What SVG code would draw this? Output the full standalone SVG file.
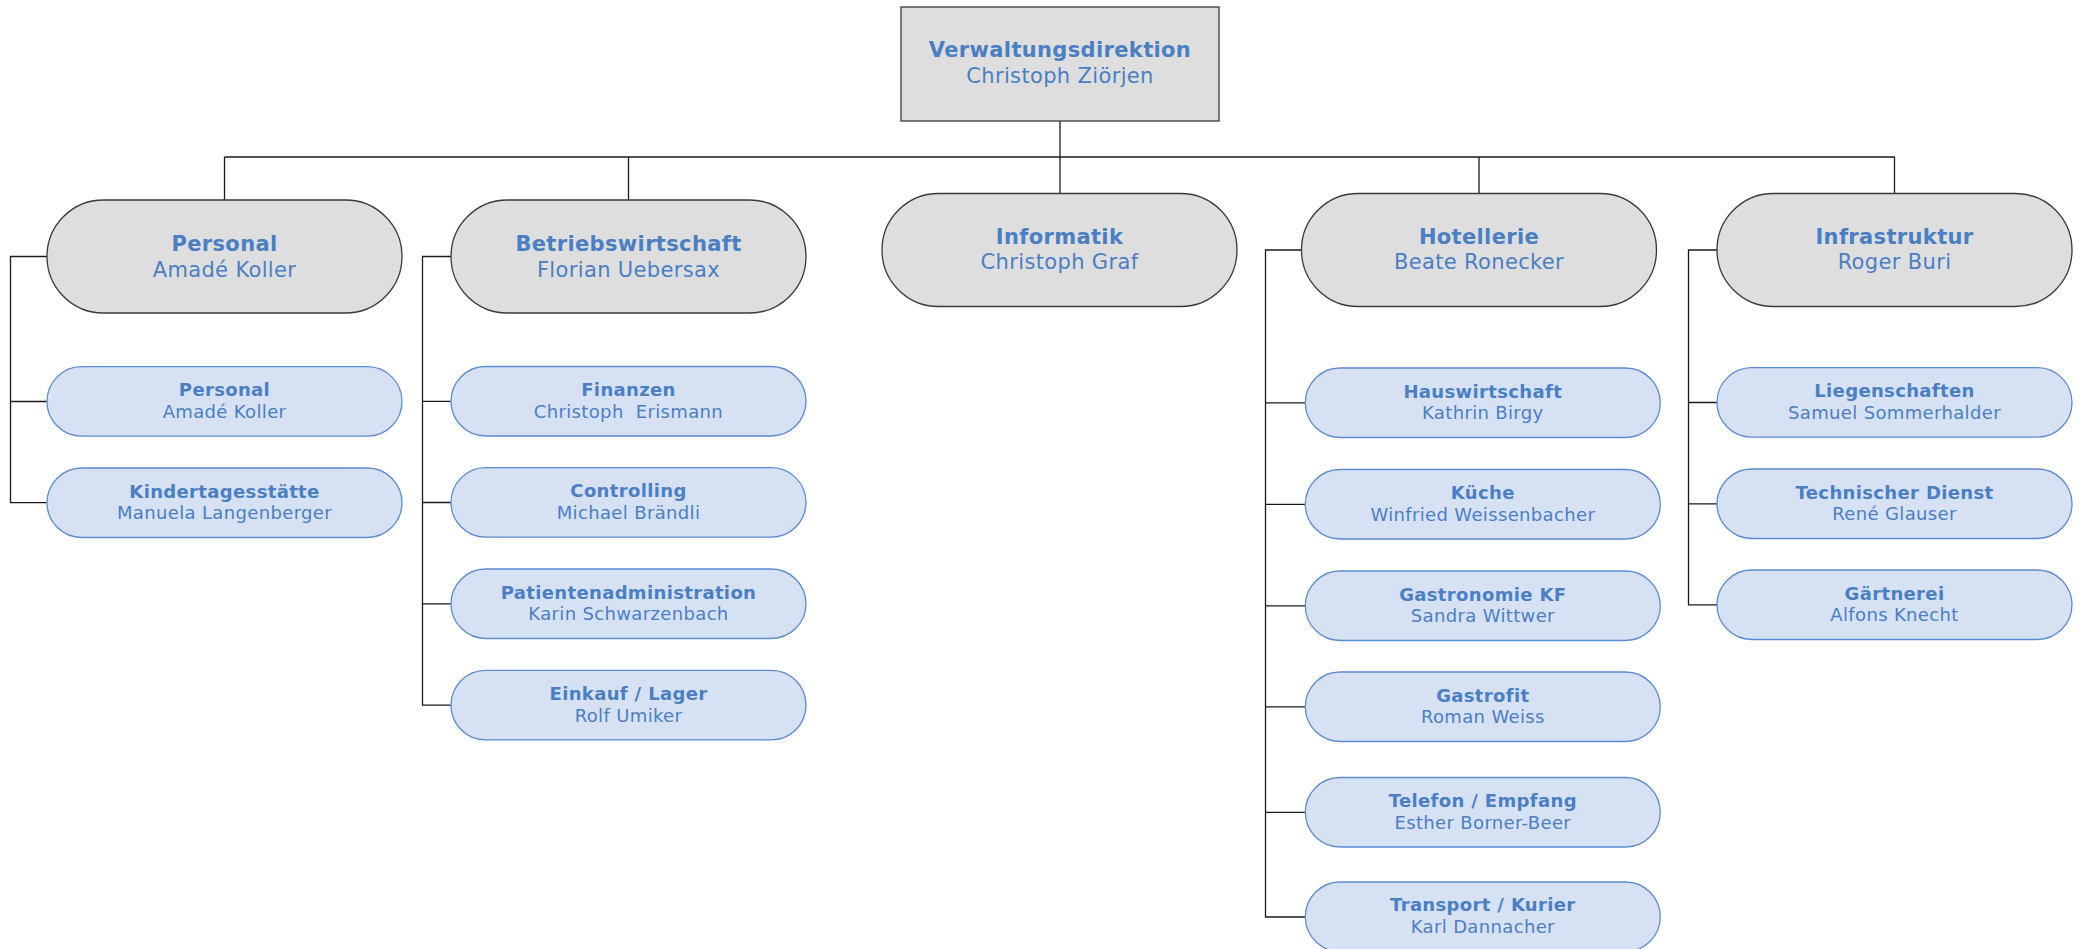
<svg xmlns="http://www.w3.org/2000/svg" width="2082" height="949" viewBox="0 0 2082 949">
<style>
.main{fill:#dedede;stroke:#3a3a3a;stroke-width:1.3}
.top{fill:#dedede;stroke:#3a3a3a;stroke-width:1.3}
.sub{fill:#d6e1f3;stroke:#5b8bd0;stroke-width:1.3}
text{font-family:"DejaVu Sans",Verdana,sans-serif;fill:#4a7fc4;text-anchor:middle;letter-spacing:0.35px}
.mb{font-size:21px;font-weight:bold}
.mr{font-size:21px}
.sb{font-size:18px;font-weight:bold}
.sr{font-size:18px}
.ln{fill:none;stroke:#1a1a1a;stroke-width:1.3}
</style>
<rect width="2082" height="949" fill="#ffffff"/>
<g id="connectors">
<path class="ln" d="M1060,121 V157" stroke-width="2.2"/>
<path class="ln" d="M224.5,157 H1895"/>
<path class="ln" d="M224.5,157 V200 M628.5,157 V200 M1060,157 V193.5 M1479,157 V193.5 M1894.5,157 V193.5"/>
<path class="ln" d="M47,256.5 H10.5 V502.7 H47 M10.5,401.5 H47"/>
<path class="ln" d="M451,256.5 H422.5 V705.2 H451 M422.5,401.3 H451 M422.5,502.5 H451 M422.5,603.8 H451"/>
<path class="ln" d="M1301.5,250 H1265.5 V917 H1305.3 M1265.5,402.8 H1305.3 M1265.5,504.3 H1305.3 M1265.5,605.8 H1305.3 M1265.5,706.8 H1305.3 M1265.5,812.3 H1305.3"/>
<path class="ln" d="M1717,250 H1688.5 V604.8 H1717 M1688.5,402.5 H1717 M1688.5,503.8 H1717"/>
</g>
<g id="verwaltungsdirektion">
<rect class="top" x="901" y="7" width="318" height="114"/>
<text class="mb" x="1060" y="57">Verwaltungsdirektion</text>
<text class="mr" x="1060" y="83">Christoph Ziörjen</text>
</g>
<g id="personal">
<rect class="main" x="47" y="200" width="355" height="113" rx="56.5"/>
<text class="mb" x="224.5" y="250.5">Personal</text>
<text class="mr" x="224.5" y="276.5">Amadé Koller</text>
</g>
<g id="betriebswirtschaft">
<rect class="main" x="451" y="200" width="355" height="113" rx="56.5"/>
<text class="mb" x="628.5" y="250.5">Betriebswirtschaft</text>
<text class="mr" x="628.5" y="276.5">Florian Uebersax</text>
</g>
<g id="informatik">
<rect class="main" x="882" y="193.5" width="355" height="113" rx="56.5"/>
<text class="mb" x="1059.5" y="243.5">Informatik</text>
<text class="mr" x="1059.5" y="269">Christoph Graf</text>
</g>
<g id="hotellerie">
<rect class="main" x="1301.5" y="193.5" width="355" height="113" rx="56.5"/>
<text class="mb" x="1479" y="243.5">Hotellerie</text>
<text class="mr" x="1479" y="269">Beate Ronecker</text>
</g>
<g id="infrastruktur">
<rect class="main" x="1717" y="193.5" width="355" height="113" rx="56.5"/>
<text class="mb" x="1894.5" y="243.5">Infrastruktur</text>
<text class="mr" x="1894.5" y="269">Roger Buri</text>
</g>
<g id="personal-sub">
<rect class="sub" x="47" y="366.7" width="355" height="69.5" rx="34.75"/>
<text class="sb" x="224.5" y="396.3">Personal</text>
<text class="sr" x="224.5" y="418">Amadé Koller</text>
</g>
<g id="kindertagesstaette">
<rect class="sub" x="47" y="468" width="355" height="69.5" rx="34.75"/>
<text class="sb" x="224.5" y="497.5">Kindertagesstätte</text>
<text class="sr" x="224.5" y="519.3">Manuela Langenberger</text>
</g>
<g id="finanzen">
<rect class="sub" x="451" y="366.5" width="355" height="69.5" rx="34.75"/>
<text class="sb" x="628.5" y="396.1">Finanzen</text>
<text class="sr" x="628.5" y="417.8" style="white-space:pre">Christoph  Erismann</text>
</g>
<g id="controlling">
<rect class="sub" x="451" y="467.7" width="355" height="69.5" rx="34.75"/>
<text class="sb" x="628.5" y="497.3">Controlling</text>
<text class="sr" x="628.5" y="519">Michael Brändli</text>
</g>
<g id="patientenadministration">
<rect class="sub" x="451" y="569" width="355" height="69.5" rx="34.75"/>
<text class="sb" x="628.5" y="598.6">Patientenadministration</text>
<text class="sr" x="628.5" y="620.3">Karin Schwarzenbach</text>
</g>
<g id="einkauf">
<rect class="sub" x="451" y="670.4" width="355" height="69.5" rx="34.75"/>
<text class="sb" x="628.5" y="700">Einkauf / Lager</text>
<text class="sr" x="628.5" y="721.7">Rolf Umiker</text>
</g>
<g id="hauswirtschaft">
<rect class="sub" x="1305.3" y="368" width="355" height="69.5" rx="34.75"/>
<text class="sb" x="1482.8" y="397.6">Hauswirtschaft</text>
<text class="sr" x="1482.8" y="419.3">Kathrin Birgy</text>
</g>
<g id="kueche">
<rect class="sub" x="1305.3" y="469.5" width="355" height="69.5" rx="34.75"/>
<text class="sb" x="1482.8" y="499.1">Küche</text>
<text class="sr" x="1482.8" y="520.8">Winfried Weissenbacher</text>
</g>
<g id="gastronomie">
<rect class="sub" x="1305.3" y="571" width="355" height="69.5" rx="34.75"/>
<text class="sb" x="1482.8" y="600.6">Gastronomie KF</text>
<text class="sr" x="1482.8" y="622.3">Sandra Wittwer</text>
</g>
<g id="gastrofit">
<rect class="sub" x="1305.3" y="672" width="355" height="69.5" rx="34.75"/>
<text class="sb" x="1482.8" y="701.6">Gastrofit</text>
<text class="sr" x="1482.8" y="723.3">Roman Weiss</text>
</g>
<g id="telefon">
<rect class="sub" x="1305.3" y="777.5" width="355" height="69.5" rx="34.75"/>
<text class="sb" x="1482.8" y="807.1">Telefon / Empfang</text>
<text class="sr" x="1482.8" y="828.8">Esther Borner-Beer</text>
</g>
<g id="transport">
<rect class="sub" x="1305.3" y="882" width="355" height="69.5" rx="34.75"/>
<text class="sb" x="1482.8" y="911">Transport / Kurier</text>
<text class="sr" x="1482.8" y="932.8">Karl Dannacher</text>
</g>
<g id="liegenschaften">
<rect class="sub" x="1717" y="367.7" width="355" height="69.5" rx="34.75"/>
<text class="sb" x="1894.5" y="397.3">Liegenschaften</text>
<text class="sr" x="1894.5" y="419.2">Samuel Sommerhalder</text>
</g>
<g id="technischer-dienst">
<rect class="sub" x="1717" y="469" width="355" height="69.5" rx="34.75"/>
<text class="sb" x="1894.5" y="498.6">Technischer Dienst</text>
<text class="sr" x="1894.5" y="520.3">René Glauser</text>
</g>
<g id="gaertnerei">
<rect class="sub" x="1717" y="570" width="355" height="69.5" rx="34.75"/>
<text class="sb" x="1894.5" y="599.6">Gärtnerei</text>
<text class="sr" x="1894.5" y="621.3">Alfons Knecht</text>
</g>
</svg>
